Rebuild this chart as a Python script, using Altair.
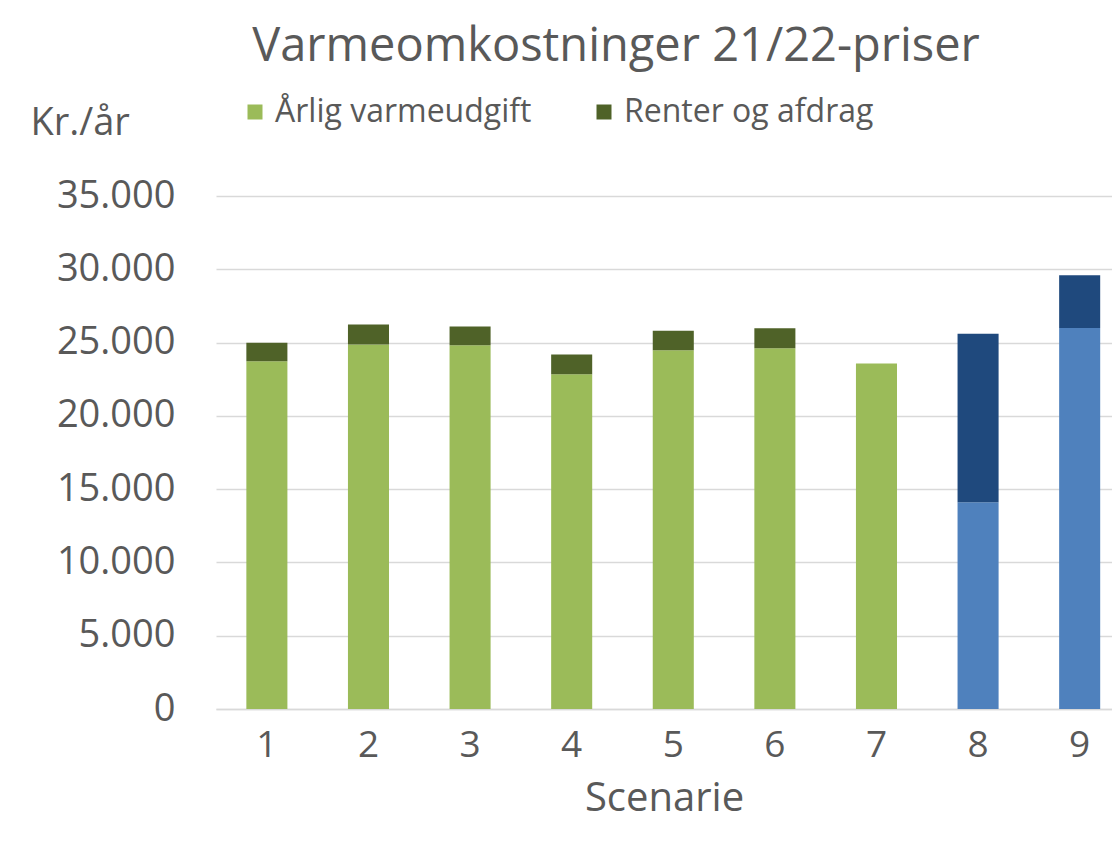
import altair as alt
import pandas as pd

scenarios = ["1", "2", "3", "4", "5", "6", "7", "8", "9"]
annual = [23730, 24860, 24820, 22840, 24480, 24620, 23570, 14100, 26000]
renter = [1250, 1370, 1270, 1340, 1320, 1360, 0, 11510, 3590]
components = ["Årlig varmeudgift", "Renter og afdrag"]
blue_keys = ["Årlig varmeudgift (8-9)", "Renter og afdrag (8-9)"]
colors = ["#9BBB59", "#4F6228", "#4F81BD", "#1F497D"]
y_ticks = [0, 5000, 10000, 15000, 20000, 25000, 30000, 35000]

rows = []
for i, s in enumerate(scenarios):
    blue = int(s) >= 8
    for j, (comp, vals) in enumerate(zip(components, [annual, renter])):
        key = blue_keys[j] if blue else comp
        rows.append({"Scenarie": s, "Komponent": key, "ord": j, "Kr": vals[i]})
df = pd.DataFrame(rows)

FONT = "Open Sans"
GREY = "#595959"

chart = alt.Chart(df).mark_bar().encode(
    x=alt.X("Scenarie:N", sort=scenarios,
            scale=alt.Scale(paddingInner=0.596, paddingOuter=0.2075, align=0.72),
            axis=alt.Axis(title="Scenarie", labelAngle=0, ticks=False,
                          labelFontSize=37, labelColor=GREY, labelPadding=18,
                          titleFontSize=40, titleColor=GREY, titleFontWeight="normal",
                          titlePadding=15, domainColor="#d9d9d9", domainWidth=1.5,
                          labelFont=FONT, titleFont=FONT)),
    y=alt.Y("Kr:Q", stack="zero",
            scale=alt.Scale(domain=[0, 35000], nice=False),
            axis=alt.Axis(values=y_ticks, title="Kr./år", titleAngle=0,
                          titleAlign="left", titleBaseline="middle",
                          titleX=-186, titleY=-73, titleFontSize=38,
                          titleColor=GREY, titleFontWeight="normal", titleFont=FONT,
                          labelExpr="replace(format(datum.value, ','), ',', '.')",
                          labelFontSize=38, labelColor=GREY, labelFont=FONT,
                          labelPadding=41, ticks=False, domain=False,
                          gridColor="#d9d9d9", gridWidth=1.5)),
    color=alt.Color("Komponent:N",
                    scale=alt.Scale(domain=components + blue_keys, range=colors),
                    legend=alt.Legend(values=components, title=None, orient="none",
                                      legendX=23, legendY=-100, direction="horizontal",
                                      symbolType="square", symbolSize=225,
                                      symbolStrokeWidth=0, labelFontSize=32,
                                      labelColor=GREY, labelFont=FONT, labelLimit=0,
                                      labelOffset=4, columnPadding=56)),
    order=alt.Order("ord:Q", sort="ascending"),
).properties(
    width=896, height=513,
    autosize=alt.AutoSizeParams(type="none"),
    padding={"left": 208, "top": 188, "right": 0, "bottom": 120},
    title=alt.TitleParams("Varmeomkostninger 21/22-priser", fontSize=47,
                          font=FONT, fontWeight="normal", color=GREY,
                          anchor="middle", dx=-48, dy=-21),
).configure_view(stroke=None)

chart.save("out.html", embed_options={"renderer": "svg", "actions": False})
